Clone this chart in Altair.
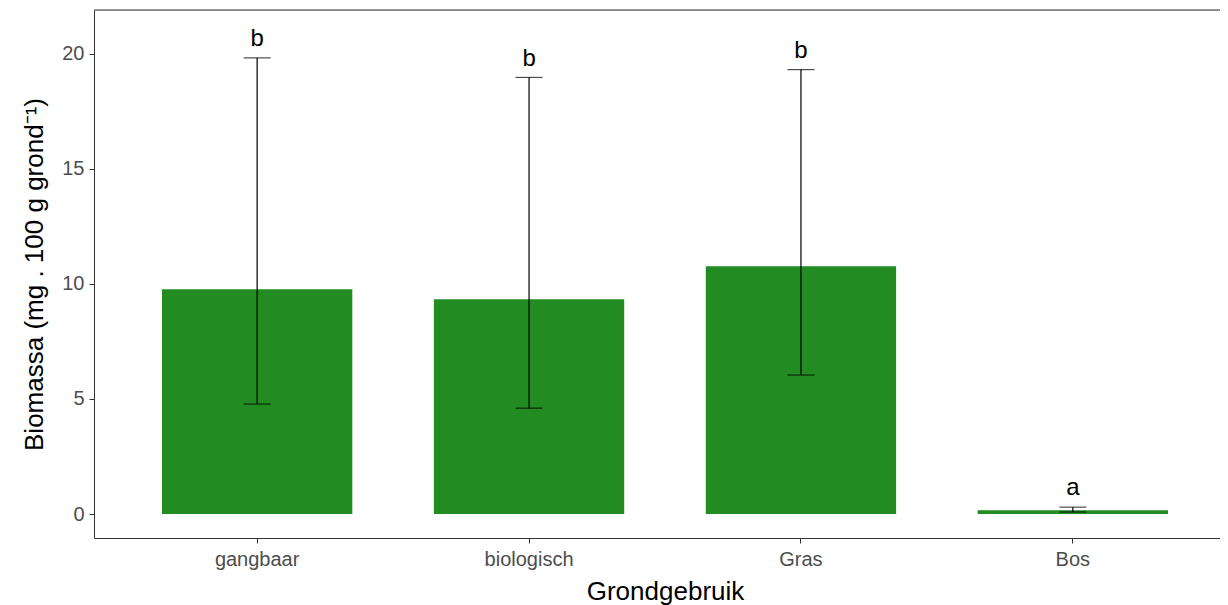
import altair as alt
import pandas as pd

categories = ["gangbaar", "biologisch", "Gras", "Bos"]
means = [9.77, 9.33, 10.77, 0.17]
err_lo = [4.78, 4.60, 6.04, 0.09]
err_hi = [19.82, 18.97, 19.31, 0.30]
letters = ["b", "b", "b", "a"]
letter_y = [20.32, 19.47, 19.81, 0.82]

df = pd.DataFrame({
    "cat": categories,
    "mean": means,
    "lo": err_lo,
    "hi": err_hi,
    "letter": letters,
    "ly": letter_y,
})

FONT = "Liberation Sans"
W = 1126
FULL = 1142

xscale = alt.Scale(domain=categories, range=[0, FULL], paddingInner=0.3, paddingOuter=0.25)
yscale = alt.Scale(domain=[-1.04, 21.9], nice=False, zero=False)

xenc = alt.X("cat:N", sort=categories, scale=xscale,
             axis=alt.Axis(title="Grondgebruik", labelAngle=0, labelFont=FONT,
                           labelFontSize=20, labelColor="#4D4D4D", tickColor="#333333",
                           tickSize=5, labelPadding=6, domainColor="#333333",
                           titleFont=FONT, titleFontSize=26, titleColor="black",
                           titleFontWeight="normal", titlePadding=9))
yenc = alt.Y("mean:Q", scale=yscale,
             axis=alt.Axis(title="Biomassa (mg . 100 g grond⁻¹)", values=[0, 5, 10, 15, 20],
                           grid=False, labelFont=FONT, labelFontSize=20,
                           labelColor="#4D4D4D", tickColor="#333333", tickSize=5,
                           labelPadding=5, domainColor="#333333", titleFont=FONT,
                           titleFontSize=26, titleColor="black", titleFontWeight="normal",
                           titlePadding=14))

base = alt.Chart(df)

bars = base.mark_bar(color="#228B22").encode(x=xenc, y=yenc)

rules = base.mark_rule(color="black", strokeWidth=1.2).encode(
    x=alt.X("cat:N", sort=categories, scale=xscale),
    y=alt.Y("lo:Q", scale=yscale),
    y2="hi:Q",
)
cap_hi = base.mark_tick(color="black", size=27, thickness=1.2).encode(
    x=alt.X("cat:N", sort=categories, scale=xscale),
    y=alt.Y("hi:Q", scale=yscale),
)
cap_lo = base.mark_tick(color="black", size=27, thickness=1.2).encode(
    x=alt.X("cat:N", sort=categories, scale=xscale),
    y=alt.Y("lo:Q", scale=yscale),
)
text = base.mark_text(baseline="alphabetic", align="center", font=FONT, fontSize=24,
                      color="black").encode(
    x=alt.X("cat:N", sort=categories, scale=xscale),
    y=alt.Y("ly:Q", scale=yscale),
    text="letter:N",
)
top_border = alt.Chart(pd.DataFrame({"a": [0]})).mark_rule(
    color="#333333", strokeWidth=1).encode(
    x=alt.value(0), x2=alt.value(FULL), y=alt.value(0))

chart = alt.layer(bars, rules, cap_hi, cap_lo, text, top_border).properties(
    width=W, height=528,
    autosize=alt.AutoSizeParams(type="none"),
    padding={"left": 86, "top": 2, "right": 0, "bottom": 67},
).configure_view(stroke=None).configure(font=FONT)

chart.save("out.html", embed_options={"renderer": "svg", "actions": False})
